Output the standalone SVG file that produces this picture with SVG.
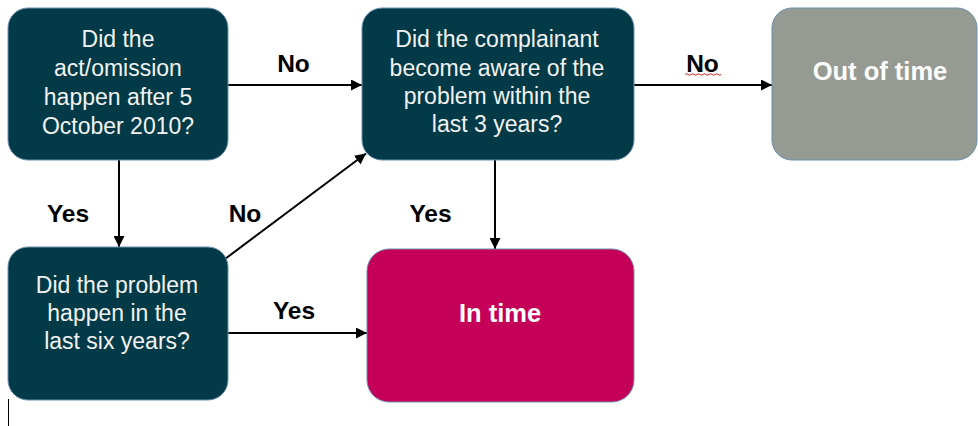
<svg xmlns="http://www.w3.org/2000/svg" width="978" height="426" viewBox="0 0 978 426">
<style>
.box{stroke:#6f8fae;stroke-width:1}
.q{fill:#023a47}
.t{font-family:"Liberation Sans",Arial,sans-serif;font-size:23px;fill:#f2f2f2;text-anchor:middle}
.b{font-family:"Liberation Sans",Arial,sans-serif;font-size:25.5px;font-weight:bold;fill:#ffffff;text-anchor:middle}
.lbl{font-family:"Liberation Sans",Arial,sans-serif;font-size:24.5px;font-weight:bold;fill:#000;text-anchor:middle}
.c{stroke:#000;stroke-width:2;fill:none;marker-end:url(#ah)}
</style>
<defs>
<marker id="ah" viewBox="0 0 10 10" refX="10" refY="5" markerWidth="11" markerHeight="11" markerUnits="userSpaceOnUse" orient="auto">
<path d="M0,0 L10,5 L0,10 z" fill="#000"/>
</marker>
</defs>
<rect width="978" height="426" fill="#fff"/>
<g id="connectors">
<line class="c" x1="228" y1="85" x2="362" y2="85"/>
<line class="c" x1="634" y1="85" x2="772" y2="85"/>
<line class="c" x1="119" y1="160" x2="119" y2="247"/>
<line class="c" x1="225" y1="259" x2="366" y2="153.5"/>
<line class="c" x1="495" y1="160" x2="495" y2="249"/>
<line class="c" x1="228" y1="333" x2="367" y2="333"/>
<text class="lbl" x="293.5" y="72">No</text>
<text class="lbl" x="702.5" y="72">No</text>
<path d="M685,74.5 q1.5,-1.5 3,0 t3,0 t3,0 t3,0 t3,0 t3,0 t3,0 t3,0 t3,0 t3,0 t3,0 t3,0" stroke="#e02020" stroke-width="1" fill="none"/>
<text class="lbl" x="68" y="221.5">Yes</text>
<text class="lbl" x="245" y="221.5">No</text>
<text class="lbl" x="430.5" y="221.5">Yes</text>
<text class="lbl" x="294" y="318.5">Yes</text>
</g>
<g id="q1">
<rect class="box q" x="8" y="8" width="220" height="152" rx="20"/>
<text class="t" x="118" y="47">Did the</text>
<text class="t" x="118" y="76">act/omission</text>
<text class="t" x="118" y="105">happen after 5</text>
<text class="t" x="118" y="134">October 2010?</text>
</g>
<g id="q2">
<rect class="box q" x="362" y="8" width="272" height="152" rx="20"/>
<text class="t" x="497" y="47">Did the complainant</text>
<text class="t" x="497" y="75.5">become aware of the</text>
<text class="t" x="497" y="104">problem within the</text>
<text class="t" x="497" y="132">last 3 years?</text>
</g>
<g id="outoftime">
<rect class="box" fill="#959b93" x="772" y="8" width="205" height="152" rx="20"/>
<text class="b" x="880" y="80">Out of time</text>
</g>
<g id="q3">
<rect class="box q" x="8" y="247" width="220" height="153" rx="20"/>
<text class="t" x="117" y="293">Did the problem</text>
<text class="t" x="117" y="321">happen in the</text>
<text class="t" x="117" y="349">last six years?</text>
</g>
<g id="intime">
<rect class="box" fill="#c50059" x="367" y="249" width="267" height="153" rx="22"/>
<text class="b" x="500" y="322">In time</text>
</g>
<line x1="8.5" y1="399" x2="8.5" y2="426" stroke="#000" stroke-width="1"/>
</svg>
